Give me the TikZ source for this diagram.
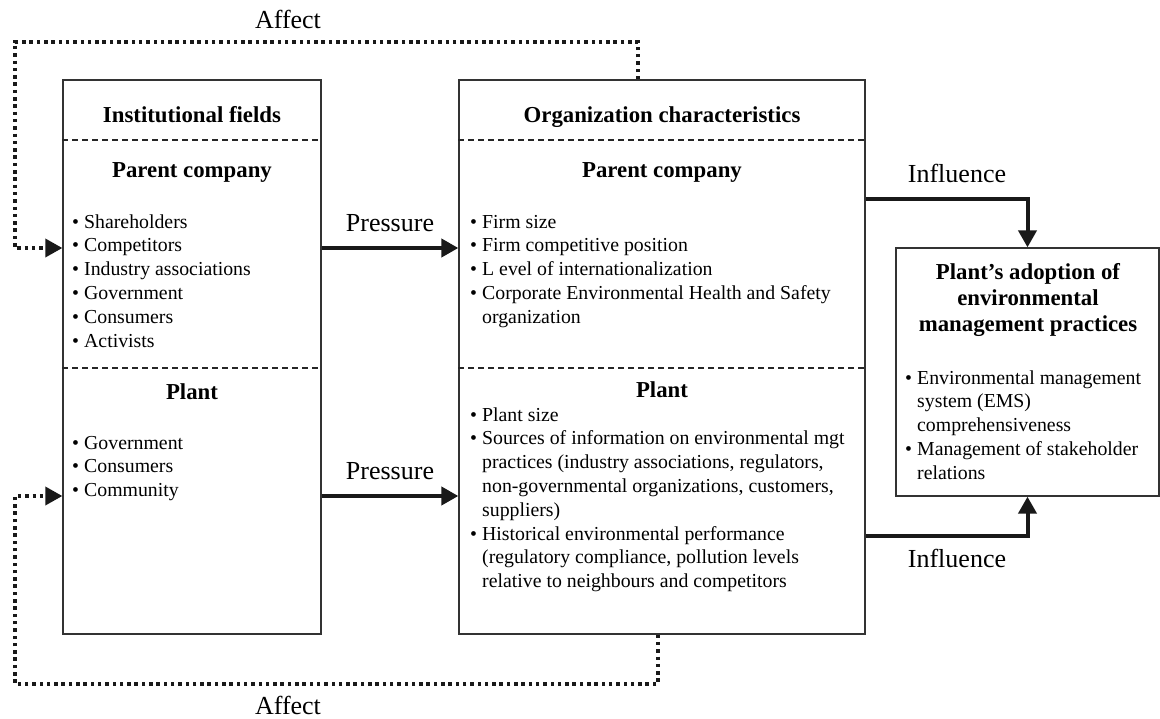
\documentclass[tikz,border=0pt]{standalone}
\usepackage{fontspec}
\setmainfont{Liberation Serif}
\usetikzlibrary{arrows.meta}
\newcommand{\bitem}{\makebox[12pt][l]{\textbullet}}
\newcommand{\bcont}{\hspace*{12pt}}
\begin{document}
\begin{tikzpicture}[x=1pt,y=-1pt,
  box/.style={draw=black!80, line width=1.3pt, inner sep=0pt},
  sepline/.style={draw=black!85, line width=1.2pt, dash pattern=on 6pt off 4pt},
  body/.style={font=\fontsize{19.8}{23.8}\selectfont, inner sep=0pt, anchor=base west},
  head/.style={font=\fontsize{22.8}{26}\selectfont\bfseries, inner sep=0pt, anchor=base},
  lbl/.style={font=\fontsize{26}{30}\selectfont, inner sep=0pt, anchor=base},
  solidarr/.style={draw=black!90, line width=4pt, -{Triangle[length=17pt,width=18pt]}},
  dotarr/.style={draw=black!90, line width=3.5pt, dash pattern=on 3.5pt off 3.8pt, -{Triangle[length=17pt,width=18pt]}},
]
\useasboundingbox (0,0) rectangle (1160,718);

% boxes
\node[box, minimum width=258pt, minimum height=554pt] (inst) at (192,357) {};
\node[box, minimum width=406pt, minimum height=554pt] (mid) at (662,357) {};
\node[box, minimum width=263pt, minimum height=248pt] (rb) at (1027.5,372) {};

% helper coordinates
\coordinate (d1) at (0,140);
\coordinate (d2) at (0,368);
\coordinate (pr1) at (0,248);
\coordinate (pr2) at (0,496);
\coordinate (inf1) at (0,199);
\coordinate (inf2) at (0,536);
\coordinate (ta) at (638,42);
\coordinate (tb) at (15,42);
\coordinate (ba) at (658,684);
\coordinate (bb) at (15,684);

% dashed separators
\draw[sepline] (inst.west |- d1) -- (inst.east |- d1);
\draw[sepline] (inst.west |- d2) -- (inst.east |- d2);
\draw[sepline] (mid.west |- d1) -- (mid.east |- d1);
\draw[sepline] (mid.west |- d2) -- (mid.east |- d2);

% headings
\node[head] (insttitle) at (192,122) {Institutional fields};
\node[head] (instpc) at (192,177) {Parent company};
\node[head] (instplant) at (192,399) {Plant};
\node[head] (midtitle) at (662,122) {Organization characteristics};
\node[head] (midpc) at (662,177) {Parent company};
\node[head] (midplant) at (662,397) {Plant};
\node[head] (rbtitle) at (1028,279) {\begin{tabular}[t]{@{}c@{}}Plant’s adoption of\\ environmental\\ management practices\end{tabular}};

% lists
\node[body] (instlist1) at (72,228) {\begin{tabular}[t]{@{}l@{}}%
\bitem Shareholders\\
\bitem Competitors\\
\bitem Industry associations\\
\bitem Government\\
\bitem Consumers\\
\bitem Activists\end{tabular}};
\node[body] (instlist2) at (72,449) {\begin{tabular}[t]{@{}l@{}}%
\bitem Government\\
\bitem Consumers\\
\bitem Community\end{tabular}};
\node[body] (midlist1) at (470,228) {\begin{tabular}[t]{@{}l@{}}%
\bitem Firm size\\
\bitem Firm competitive position\\
\bitem L evel of internationalization\\
\bitem Corporate Environmental Health and Safety\\
\bcont organization\end{tabular}};
\node[body] (midlist2) at (470,421) {\begin{tabular}[t]{@{}l@{}}%
\bitem Plant size\\
\bitem Sources of information on environmental mgt\\
\bcont practices (industry associations, regulators,\\
\bcont non-governmental organizations, customers,\\
\bcont suppliers)\\
\bitem Historical environmental performance\\
\bcont (regulatory compliance, pollution levels\\
\bcont relative to neighbours and competitors\end{tabular}};
\node[body] (rblist) at (905,384) {\begin{tabular}[t]{@{}l@{}}%
\bitem Environmental management\\
\bcont system (EMS)\\
\bcont comprehensiveness\\
\bitem Management of stakeholder\\
\bcont relations\end{tabular}};

% connector labels
\node[lbl] (affecttop) at (288,28) {Affect};
\node[lbl] (affectbot) at (288,714) {Affect};
\node[lbl] (press1) at (390,231) {Pressure};
\node[lbl] (press2) at (390,479) {Pressure};
\node[lbl] (infl1) at (957,182) {Influence};
\node[lbl] (infl2) at (957,567) {Influence};

% connectors
\draw[solidarr] (inst.east |- pr1) -- (mid.west |- pr1);
\draw[solidarr] (inst.east |- pr2) -- (mid.west |- pr2);
\draw[solidarr] (mid.east |- inf1) -| (rb.north);
\draw[solidarr] (mid.east |- inf2) -| (rb.south);
\draw[dotarr] (ta |- mid.north) -- (ta) -- (tb) |- (inst.west |- pr1);
\draw[dotarr] (ba |- mid.south) -- (ba) -- (bb) |- (inst.west |- pr2);
\end{tikzpicture}
\end{document}
